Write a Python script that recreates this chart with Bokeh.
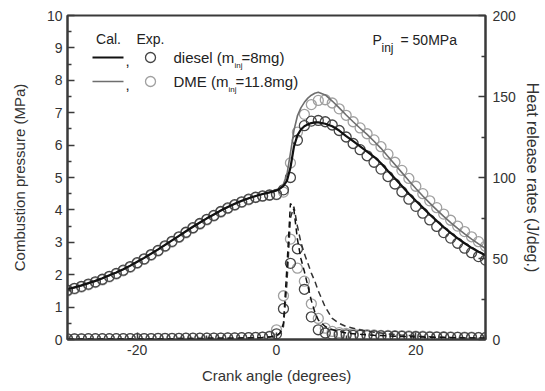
from bokeh.plotting import figure
from bokeh.models import Range1d, LinearAxis, FixedTicker, PrintfTickFormatter
from bokeh.core.properties import value
from bokeh.embed import file_html
from bokeh.resources import INLINE

# ---------------- data ----------------
crank = [-30, -29, -28, -27, -26, -25, -24, -23, -22, -21, -20, -19, -18, -17, -16, -15,
         -14, -13, -12, -11, -10, -9, -8, -7, -6, -5, -4, -3, -2, -1, 0,
         1, 2, 3, 4, 5, 6, 7, 8, 9, 10, 11, 12, 13, 14, 15, 16, 17, 18, 19, 20,
         21, 22, 23, 24, 25, 26, 27, 28, 29, 30]

p_diesel_exp = [1.52, 1.58, 1.64, 1.71, 1.78, 1.86, 1.95, 2.04, 2.14, 2.25, 2.37, 2.49, 2.62, 2.75, 2.89, 3.03,
                3.17, 3.31, 3.45, 3.58, 3.71, 3.83, 3.95, 4.06, 4.16, 4.25, 4.33, 4.39, 4.43, 4.46, 4.48,
                4.62, 5.00, 6.15, 6.60, 6.74, 6.76, 6.72, 6.62, 6.45, 6.25, 6.05, 5.86, 5.67, 5.47, 5.26,
                5.03, 4.80, 4.56, 4.33, 4.11, 3.90, 3.69, 3.49, 3.30, 3.13, 2.97, 2.82, 2.68, 2.56, 2.45]

p_dme_exp = [1.50, 1.56, 1.62, 1.69, 1.76, 1.84, 1.93, 2.02, 2.12, 2.23, 2.35, 2.47, 2.60, 2.73, 2.87, 3.01,
             3.15, 3.29, 3.43, 3.56, 3.69, 3.81, 3.93, 4.04, 4.14, 4.23, 4.31, 4.38, 4.42, 4.45, 4.47,
             4.55, 5.45, 6.40, 6.95, 7.25, 7.38, 7.40, 7.30, 7.12, 6.92, 6.72, 6.53, 6.35, 6.16, 5.95,
             5.72, 5.47, 5.22, 4.97, 4.73, 4.50, 4.28, 4.07, 3.87, 3.68, 3.50, 3.33, 3.17, 3.02, 2.88]

hrr_diesel_exp = [0.4, 0.4, 0.4, 0.5, 0.5, 0.5, 0.5, 0.5, 0.6, 0.6, 0.6, 0.6, 0.6, 0.7, 0.7, 0.7,
                  0.7, 0.8, 0.8, 0.8, 0.8, 0.9, 0.9, 1.0, 1.0, 1.1, 1.2, 1.3, 1.5, 1.8, 3.5,
                  19, 47, 56, 31, 14, 6, 4, 3.2, 3.0, 2.8, 2.6, 2.5, 2.4, 2.3, 2.2,
                  2.1, 2.0, 1.9, 1.8, 1.7, 1.6, 1.5, 1.5, 1.4, 1.3, 1.3, 1.2, 1.2, 1.1, 1.1]

hrr_dme_exp = [0.3, 0.3, 0.3, 0.4, 0.4, 0.4, 0.4, 0.5, 0.5, 0.5, 0.5, 0.5, 0.6, 0.6, 0.6, 0.6,
               0.7, 0.7, 0.7, 0.7, 0.8, 0.8, 0.8, 0.9, 0.9, 1.0, 1.1, 1.2, 1.4, 2.0, 6.0,
               27, 62, 44, 36, 22, 13, 7, 5, 4.2, 3.8, 3.5, 3.2, 3.0, 2.8, 2.6,
               2.5, 2.4, 2.3, 2.2, 2.1, 2.0, 1.9, 1.8, 1.7, 1.6, 1.5, 1.5, 1.4, 1.3, 1.3]

crank_calc = [-30, -29, -28, -27, -26, -25, -24, -23, -22, -21, -20, -19, -18, -17, -16, -15,
              -14, -13, -12, -11, -10, -9, -8, -7, -6, -5, -4, -3, -2, -1, 0,
              0.5, 1, 1.5, 2, 2.5, 3, 3.5, 4, 4.5, 5, 5.5, 6,
              7, 8, 9, 10, 11, 12, 13, 14, 15, 16, 17, 18, 19, 20,
              21, 22, 23, 24, 25, 26, 27, 28, 29, 30]

p_diesel_calc = [1.55, 1.61, 1.67, 1.74, 1.81, 1.89, 1.98, 2.07, 2.17, 2.28, 2.40, 2.52, 2.65, 2.78, 2.92, 3.06,
                 3.20, 3.34, 3.48, 3.61, 3.74, 3.86, 3.98, 4.09, 4.19, 4.28, 4.36, 4.43, 4.49, 4.54, 4.60,
                 4.66, 4.74, 4.90, 5.30, 5.95, 6.30, 6.48, 6.58, 6.64, 6.68, 6.70, 6.70,
                 6.66, 6.58, 6.45, 6.28, 6.12, 5.96, 5.80, 5.64, 5.44, 5.20, 4.97, 4.74, 4.50, 4.28,
                 4.07, 3.86, 3.66, 3.47, 3.29, 3.12, 2.97, 2.83, 2.71, 2.60]

p_dme_calc = [1.54, 1.60, 1.66, 1.73, 1.80, 1.88, 1.97, 2.06, 2.16, 2.27, 2.39, 2.51, 2.64, 2.77, 2.91, 3.05,
              3.19, 3.33, 3.47, 3.60, 3.73, 3.85, 3.97, 4.08, 4.18, 4.27, 4.35, 4.42, 4.48, 4.54, 4.60,
              4.68, 4.80, 5.10, 5.75, 6.45, 6.90, 7.15, 7.32, 7.45, 7.54, 7.60, 7.63,
              7.55, 7.36, 7.15, 6.93, 6.72, 6.52, 6.33, 6.12, 5.90, 5.65, 5.40, 5.15, 4.90, 4.66,
              4.43, 4.21, 4.00, 3.80, 3.61, 3.43, 3.26, 3.10, 2.95, 2.81]

hrr_diesel_calc = [0.3, 0.3, 0.3, 0.3, 0.3, 0.3, 0.4, 0.4, 0.4, 0.4, 0.4, 0.5, 0.5, 0.5, 0.5, 0.5,
                   0.6, 0.6, 0.6, 0.6, 0.7, 0.7, 0.7, 0.8, 0.8, 0.9, 1.0, 1.1, 1.3, 1.6, 2.2,
                   4, 10, 45, 84, 80, 62, 50, 42, 33, 24, 17, 12,
                   8, 6, 5, 4, 3.6, 3.2, 2.9, 2.6, 2.4, 2.2, 2.0, 1.9, 1.7, 1.6,
                   1.5, 1.4, 1.3, 1.2, 1.1, 1.0, 1.0, 0.9, 0.9, 0.8]

hrr_dme_calc = [0.3, 0.3, 0.3, 0.3, 0.3, 0.3, 0.4, 0.4, 0.4, 0.4, 0.4, 0.5, 0.5, 0.5, 0.5, 0.5,
                0.6, 0.6, 0.6, 0.6, 0.7, 0.7, 0.7, 0.8, 0.8, 0.9, 1.0, 1.1, 1.3, 1.6, 2.2,
                4, 8, 35, 75, 82, 70, 60, 53, 47, 41, 36, 30,
                20, 13, 10, 8, 7, 6, 5.2, 4.5, 4.0, 3.5, 3.0, 2.7, 2.4, 2.1,
                1.9, 1.7, 1.5, 1.4, 1.3, 1.2, 1.1, 1.0, 0.9, 0.8]

x_ticks = [-20, 0, 20]
x_minor = [-30, -10, 10, 30]
p_ticks = [0, 1, 2, 3, 4, 5, 6, 7, 8, 9, 10]
hrr_ticks = [0, 50, 100, 150, 200]

# ---------------- figure ----------------
FONT = "Liberation Sans"
AX = "#3a3a3a"
DARK = "#454545"
LIGHT = "#a0a0a0"

p = figure(width=545, height=391, output_backend="svg", toolbar_location=None,
           x_range=Range1d(-30, 30), y_range=Range1d(0, 10),
           min_border_left=67, min_border_right=60, min_border_top=15, min_border_bottom=52)
p.extra_y_ranges = {"hrr": Range1d(0, 200)}
p.grid.visible = False
p.outline_line_color = AX
p.outline_line_width = 2
p.background_fill_color = "white"
p.border_fill_color = "white"


def style_axis(ax, label_size):
    ax.axis_line_color = AX
    ax.axis_line_width = 2
    ax.major_tick_line_color = AX
    ax.minor_tick_line_color = AX
    ax.major_tick_line_width = 1.5
    ax.minor_tick_line_width = 1.5
    ax.major_tick_in = 7
    ax.major_tick_out = 0
    ax.minor_tick_in = 4
    ax.minor_tick_out = 0
    ax.major_label_text_font = FONT
    ax.major_label_text_font_size = "14px"
    ax.major_label_text_color = "#333333"
    ax.axis_label_text_font = FONT
    ax.axis_label_text_font_size = label_size
    ax.axis_label_text_font_style = "normal"
    ax.axis_label_text_color = "#333333"
    ax.major_label_standoff = 5


xa = p.xaxis[0]
xa.ticker = FixedTicker(ticks=x_ticks, minor_ticks=x_minor)
xa.formatter = PrintfTickFormatter(format="%d")
xa.axis_label = "Crank angle (degrees)"
style_axis(xa, "15px")
xa.axis_label_standoff = 9

ya = p.yaxis[0]
ya.ticker = FixedTicker(ticks=p_ticks, minor_ticks=[v + 0.5 for v in p_ticks[:-1]])
ya.axis_label = "Combustion pressure (MPa)"
style_axis(ya, "15px")
ya.axis_label_standoff = 16

ra = LinearAxis(y_range_name="hrr", axis_label="Heat release rates (J/deg.)")
ra.ticker = FixedTicker(ticks=hrr_ticks, minor_ticks=[v + 25 for v in hrr_ticks[:-1]])
style_axis(ra, "16px")
ra.major_label_standoff = 7
ra.axis_label_standoff = 5
p.add_layout(ra, "right")

# experiments (circles)
p.scatter(crank, p_dme_exp, marker="circle", size=10, fill_color=None, line_color=LIGHT, line_width=1.3)
p.scatter(crank, p_diesel_exp, marker="circle", size=10, fill_color=None, line_color=DARK, line_width=1.3)
p.scatter(crank, hrr_dme_exp, marker="circle", size=10, fill_color=None, line_color=LIGHT, line_width=1.3,
          y_range_name="hrr")
p.scatter(crank, hrr_diesel_exp, marker="circle", size=10, fill_color=None, line_color=DARK, line_width=1.3,
          y_range_name="hrr")

# calculations (lines)
p.line(crank_calc, p_dme_calc, line_color="#6e6e6e", line_width=1.6)
p.line(crank_calc, p_diesel_calc, line_color="#111111", line_width=2.2)
p.line(crank_calc, hrr_dme_calc, line_color="#333333", line_width=1.5, line_dash="6 4", y_range_name="hrr")
p.line(crank_calc, hrr_diesel_calc, line_color="#111111", line_width=1.5, line_dash="6 4", y_range_name="hrr")


# ---------------- legend / annotation (positions from pixel layout) ----------------
def dx(px):
    return (px - 67) / 418 * 60 - 30


def dy(py):
    return (339 - py) / 324 * 10


def txt(px, py, s, size="15px", align="left", color="#222222"):
    p.text([dx(px)], [dy(py)], text=[s], text_font=value(FONT), text_font_size=value(size),
           text_align=align, text_baseline="middle", text_color=color)


txt(108, 38, "Cal.", size="14px", align="center")
txt(150, 38, "Exp.", size="14px", align="center")
p.line([dx(92), dx(123)], [dy(57), dy(57)], line_color="#111111", line_width=2.2)
p.line([dx(92), dx(123)], [dy(81), dy(81)], line_color="#6e6e6e", line_width=1.6)
txt(125, 60, ",")
txt(125, 84, ",")
p.scatter([dx(150)], [dy(57)], marker="circle", size=10, fill_color=None, line_color=DARK, line_width=1.3)
p.scatter([dx(150)], [dy(81)], marker="circle", size=10, fill_color=None, line_color=LIGHT, line_width=1.3)

txt(173, 57, "diesel (m")
txt(234, 65, "inj", size="8px")
txt(241, 57, "=8mg)")
txt(173, 81, "DME (m")
txt(228, 89, "inj", size="8px")
txt(235, 81, "=11.8mg)")

txt(372, 39, "P", size="14px")
txt(381, 47, "inj", size="12px")
txt(400, 39, "= 50MPa", size="14px")

open("out.html", "w").write(file_html(p, INLINE))
